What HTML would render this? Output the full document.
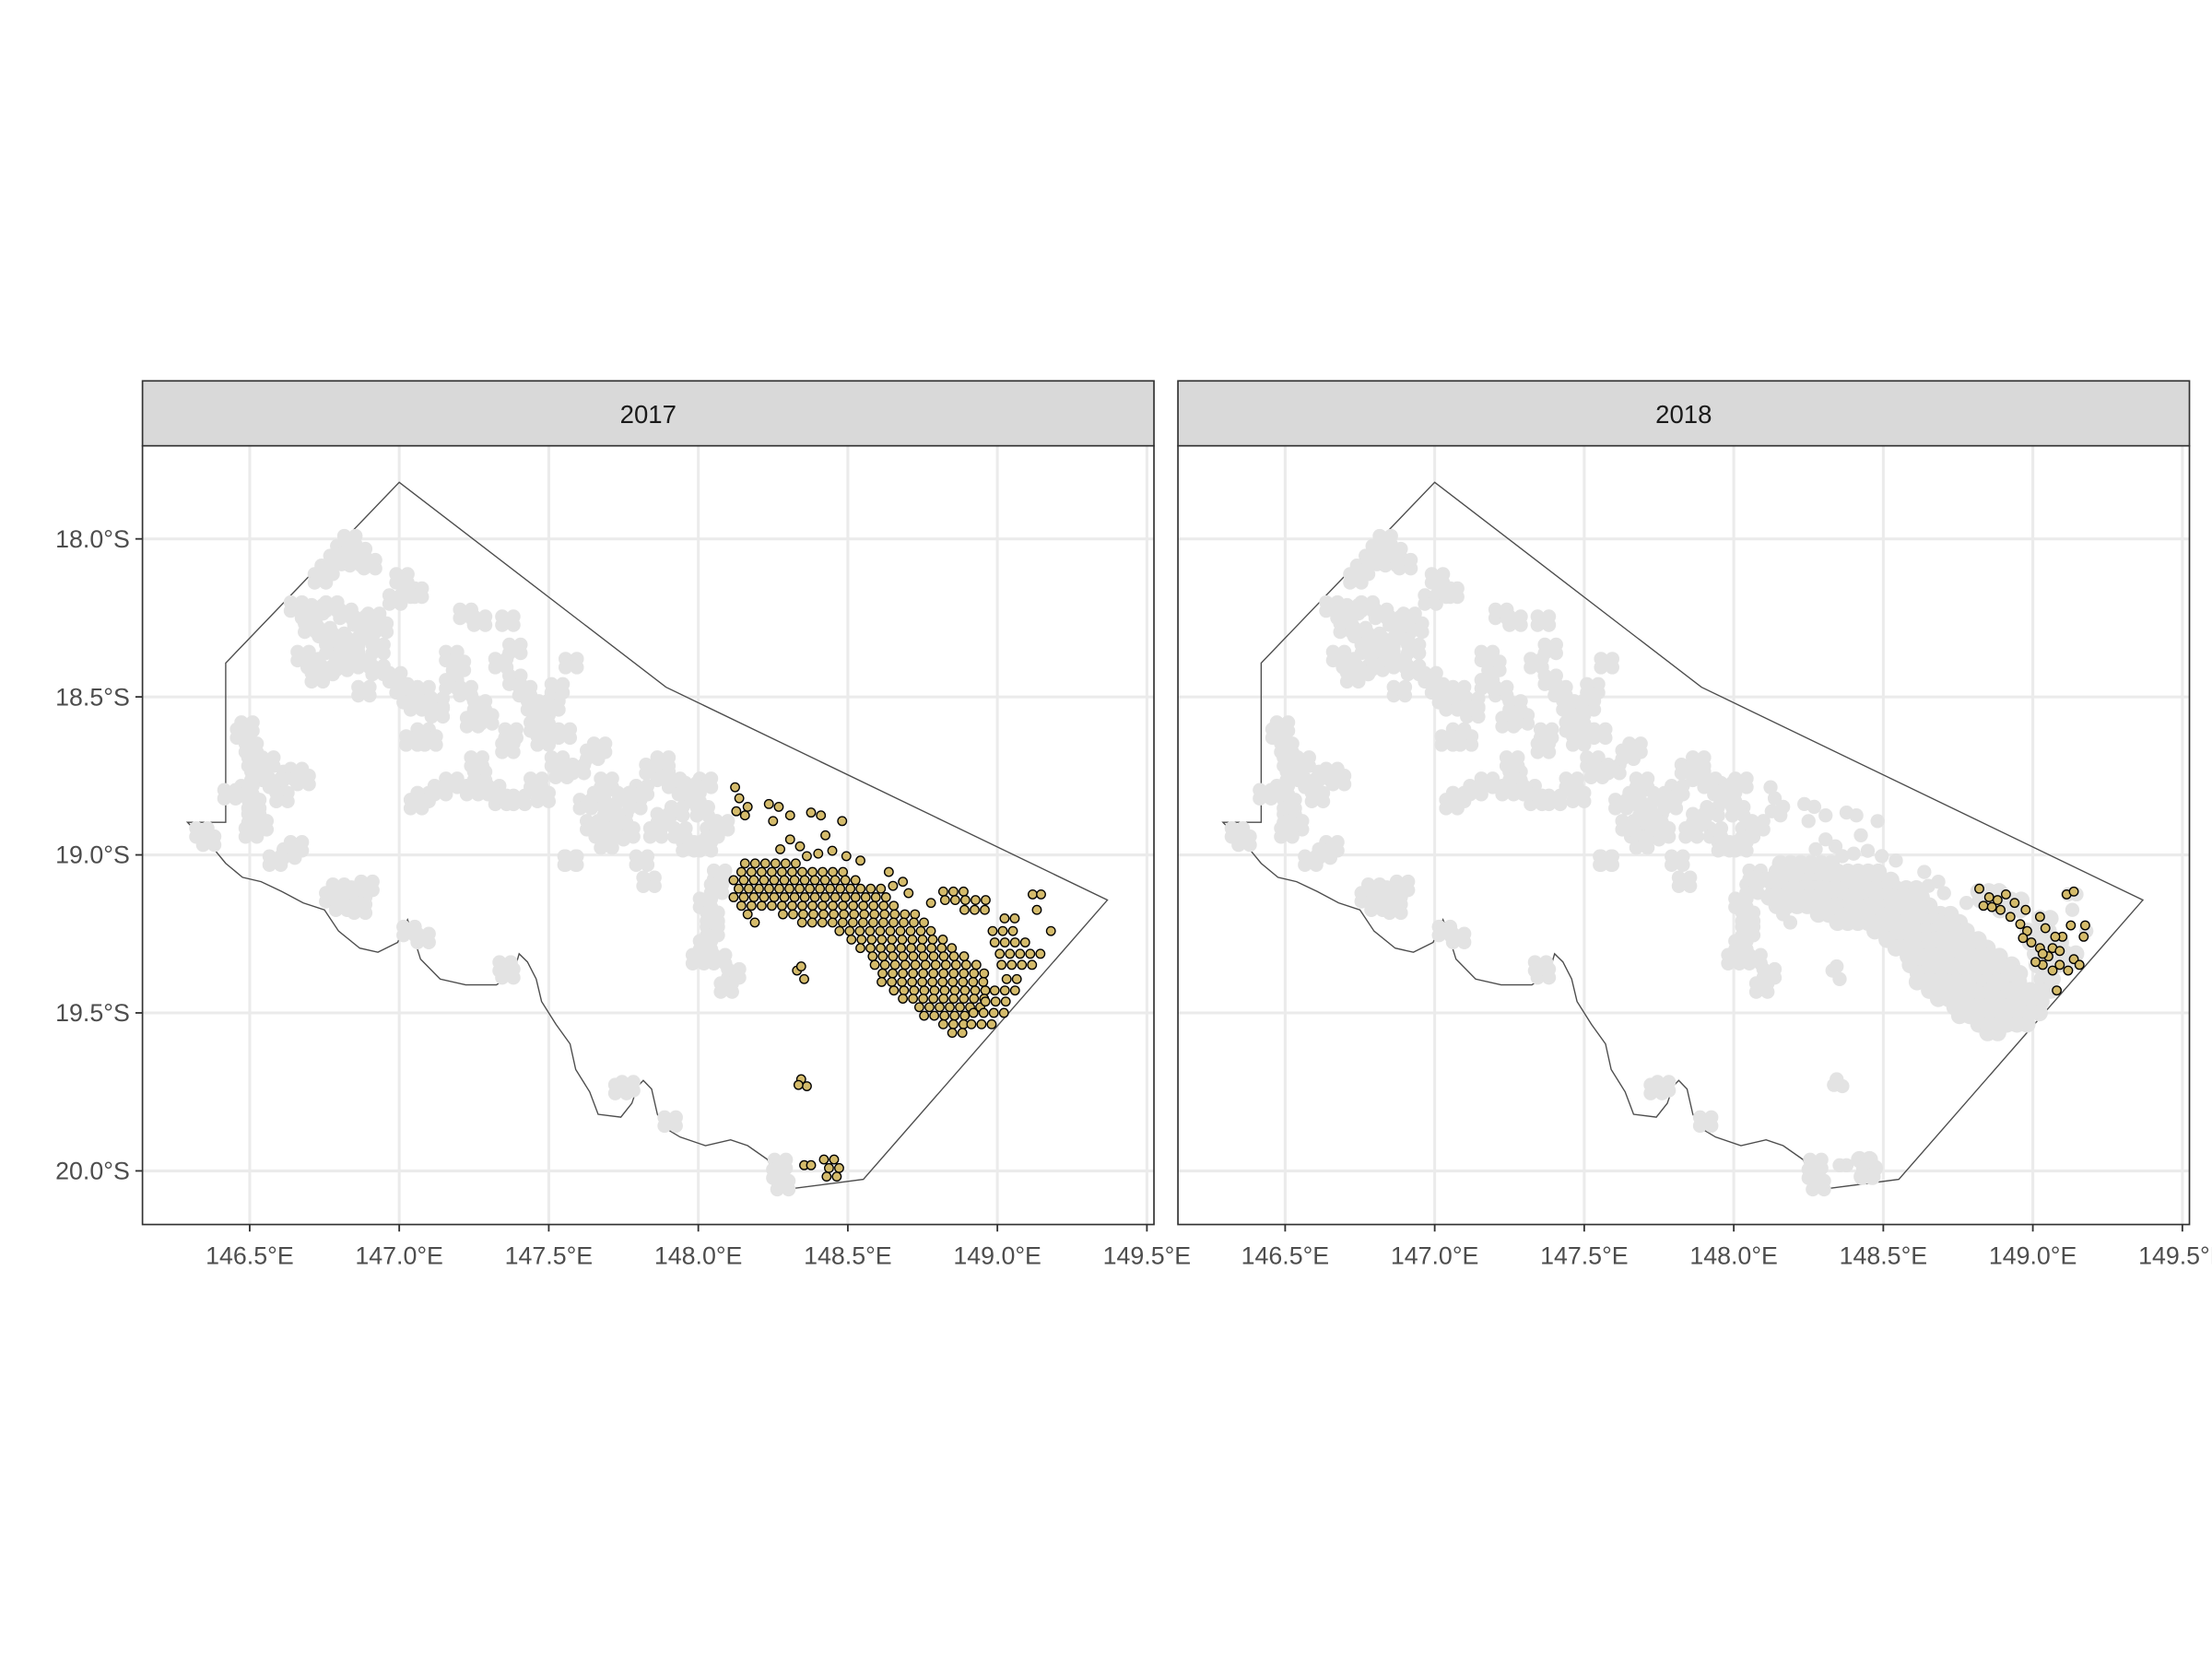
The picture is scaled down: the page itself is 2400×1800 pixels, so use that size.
<!DOCTYPE html>
<html><head><meta charset="utf-8"><style>
html,body{margin:0;padding:0;background:#fff;}
svg{display:block;}
text{font-family:"Liberation Sans",sans-serif;}
</style></head><body>
<svg id="chart" width="2400" height="1800" viewBox="0 0 1568 1176" xmlns="http://www.w3.org/2000/svg">
<defs>
<clipPath id="clipL"><rect x="101" y="316" width="717" height="552"/></clipPath>
<clipPath id="clipR"><rect x="835" y="316" width="717" height="552"/></clipPath>
</defs>
<g id="root"></g>
</svg>
<script>
// ---- data (lon °E, lat °S) ----
const xTicks = [146.5,147.0,147.5,148.0,148.5,149.0,149.5];
const xTickLabels = ["146.5°E","147.0°E","147.5°E","148.0°E","148.5°E","149.0°E","149.5°E"];
const yTicks = [18.0,18.5,19.0,19.5,20.0];
const yTickLabels = ["18.0°S","18.5°S","19.0°S","19.5°S","20.0°S"];
const panelYears = ["2017","2018"];
const boundaryPx = [[133,583],[140,590],[150,600],[160,612],[172,622],[185,625],[200,632],[215,640],[230,645],[240,660],[255,672],[268,675],[282,668],[289,652],[292,660],[298,680],[312,694],[330,698],[352,698],[364,690],[368,676],[374,682],[380,694],[384,710],[394,726],[404,740],[408,758],[418,774],[424,790],[440,792],[448,782],[452,770],[456,766],[462,772],[466,790],[472,800],[482,806],[500,812],[518,808],[530,812],[544,822],[550,834],[558,843],[612,836],[785,638],[472,487],[283,342],[160,470],[160,583]];
const boundaryLon = boundaryPx.map(p=>+(146.5+(p[0]-177)/212).toFixed(3));
const boundaryLat = boundaryPx.map(p=>+(18+(p[1]-382)/224).toFixed(3));
const grayPx = [[248,383],[243,390],[238,397],[232,404],[227,410],[255,392],[262,400],[252,398],[285,410],[290,420],[280,425],[210,430],[218,435],[225,432],[235,430],[245,435],[255,440],[265,438],[270,445],[220,445],[230,448],[240,452],[250,455],[260,450],[268,460],[215,465],[222,470],[232,475],[242,472],[250,465],[258,470],[268,475],[225,480],[235,460],[245,458],[258,490],[295,420],[330,435],[340,440],[360,440],[365,460],[355,470],[320,465],[325,472],[280,480],[285,488],[290,495],[300,490],[295,500],[310,498],[320,485],[330,490],[340,500],[345,510],[335,512],[310,505],[300,520],[292,525],[305,525],[365,482],[372,490],[378,500],[385,510],[392,500],[395,488],[405,470],[400,520],[385,525],[380,515],[362,520],[360,530],[395,540],[398,548],[410,545],[420,535],[425,530],[430,555],[425,565],[432,575],[440,580],[438,592],[445,590],[450,570],[455,560],[432,585],[442,565],[426,590],[462,545],[470,550],[478,555],[485,560],[490,558],[500,555],[492,565],[480,575],[470,580],[465,590],[482,590],[488,600],[500,600],[505,590],[512,585],[498,575],[430,598],[420,585],[415,570],[380,555],[385,565],[368,567],[355,567],[340,550],[338,540],[335,560],[350,560],[320,555],[312,560],[300,565],[295,570],[405,610],[455,610],[460,625],[470,540],[510,620],[500,640],[505,660],[500,670],[510,680],[520,690],[515,700],[495,680],[505,650],[508,630],[175,515],[172,520],[178,530],[180,540],[182,550],[190,540],[195,555],[200,565],[205,550],[210,548],[215,553],[175,560],[180,570],[180,580],[185,585],[163,563],[178,590],[143,590],[148,596],[210,600],[205,605],[195,610],[240,630],[235,636],[245,632],[250,638],[242,642],[255,633],[255,644],[260,628],[290,660],[300,665],[358,685],[360,690],[404,610],[440,772],[445,770],[475,795],[553,825],[555,840],[552,832]];
const grayLon = grayPx.map(p=>+(146.5+(p[0]-177)/212).toFixed(3));
const grayLat = grayPx.map(p=>+(18+(p[1]-382)/224).toFixed(3));
const denseRows2017 = [[612,528,570],[618,522,600],[624,520,610],[630,520,625],[636,520,635],[642,522,640],[648,555,650],[654,565,655],[660,595,660],[666,600,670],[672,610,680],[678,615,690],[684,620,695],[690,622,700],[696,625,700],[702,630,700],[708,640,700],[714,648,700],[720,655,690],[726,665,690],[732,675,688],[632,665,690],[638,670,700],[645,680,705],[651,712,725],[660,700,725],[668,705,730],[676,705,740],[684,710,735],[694,710,725],[702,705,725],[710,695,720],[718,690,712],[726,685,705],[822,584,598],[828,584,600],[834,586,600]];
const rowLat2017 = denseRows2017.map(r=>+(18+(r[0]-382)/224).toFixed(3));
const rowLonMin2017 = denseRows2017.map(r=>+(146.5+(r[1]-177)/212).toFixed(3));
const rowLonMax2017 = denseRows2017.map(r=>+(146.5+(r[2]-177)/212).toFixed(3));
const goldPx2017 = [[521,558],[524,566],[530,572],[522,575],[528,578],[545,570],[552,572],[548,582],[560,578],[575,576],[582,578],[597,582],[585,592],[560,595],[567,600],[553,602],[572,607],[580,605],[590,603],[600,607],[610,610],[630,618],[640,625],[633,628],[644,633],[660,640],[565,688],[570,694],[568,685],[568,765],[572,770],[566,769],[570,826],[575,826],[530,648],[535,654],[735,645],[745,660],[732,634],[738,634]];
const goldLon2017 = goldPx2017.map(p=>+(146.5+(p[0]-177)/212).toFixed(3));
const goldLat2017 = goldPx2017.map(p=>+(18+(p[1]-382)/224).toFixed(3));
const goldPx2018 = [[1403,630],[1410,636],[1416,638],[1422,634],[1428,640],[1418,645],[1425,650],[1432,655],[1437,660],[1434,665],[1440,668],[1446,672],[1452,678],[1448,684],[1455,688],[1460,684],[1466,688],[1470,680],[1462,664],[1468,656],[1465,634],[1470,632],[1477,664],[1478,656],[1436,645],[1446,650],[1450,658],[1457,664],[1455,672],[1460,674],[1443,682],[1458,702],[1474,684],[1448,676],[1406,642],[1412,643]];
const goldLon2018 = goldPx2018.map(p=>+(146.5+(p[0]-734-177)/212).toFixed(3));
const goldLat2018 = goldPx2018.map(p=>+(18+(p[1]-382)/224).toFixed(3));

const NS="http://www.w3.org/2000/svg";
const panels=[{x0:101,clip:"clipL"},{x0:835,clip:"clipR"}];
function xScale(lon,p){return p.x0+76+(lon-146.5)*212;}
function yScale(lat){return 382+(lat-18.0)*224;}
function mk(tag,attrs,parent){const e=document.createElementNS(NS,tag);for(const k in attrs)e.setAttribute(k,attrs[k]);parent.appendChild(e);return e;}
const root=document.getElementById('root');
const STEP_X=7.2/212, STEP_Y=6/224;
// blob glyph: a reef patch drawn as a small cluster of overlapping discs
const BLOB=[[0,0],[-4,-3],[4,-3],[-4,3],[4,3]];
function grayBlob(cx,cy,parent){
  const bg=mk('g',{fill:'#e3e3e3'},parent);
  
  
  BLOB.forEach(o=>mk('circle',{cx:cx+o[0],cy:cy+o[1],r:5},bg));
}

panels.forEach((p,pi)=>{
  const g=mk('g',{},root);
  
  
  const bg=mk('rect',{x:p.x0,y:316,width:717,height:552,fill:'#fff'},g);
  
  
  xTicks.forEach((t,i)=>{
    const gl=mk('line',{x1:xScale(t,p),x2:xScale(t,p),y1:316,y2:868,stroke:'#ebebeb','stroke-width':2},g);
    
    
    const tk=mk('line',{x1:xScale(t,p),x2:xScale(t,p),y1:868,y2:873,stroke:'#333','stroke-width':1.2},g);
    
    
    const lb=mk('text',{x:xScale(t,p),y:896,'text-anchor':'middle','font-size':17.5,fill:'#4d4d4d'},g);
    lb.textContent=xTickLabels[i];
    
    
  });
  yTicks.forEach((t,i)=>{
    const gl=mk('line',{x1:p.x0,x2:p.x0+717,y1:yScale(t),y2:yScale(t),stroke:'#ebebeb','stroke-width':2},g);
    
    
    if(pi===0){
      const tk=mk('line',{x1:96,x2:101,y1:yScale(t),y2:yScale(t),stroke:'#333','stroke-width':1.2},g);
      
      
      const lb=mk('text',{x:92,y:yScale(t)+6,'text-anchor':'end','font-size':17.5,fill:'#4d4d4d'},g);
      lb.textContent=yTickLabels[i];
      
      
    }
  });
  const cg=mk('g',{'clip-path':'url(#'+p.clip+')'},g);
  const pts=boundaryLon.map((lo,i)=>xScale(lo,p).toFixed(1)+','+yScale(boundaryLat[i]).toFixed(1)).join(' ');
  const poly=mk('polygon',{points:pts,fill:'none',stroke:'#4d4d4d','stroke-width':0.9},cg);
  
  
  grayLon.forEach((lo,i)=>grayBlob(xScale(lo,p),yScale(grayLat[i]),cg));
  function rowPoints(gold){
    rowLat2017.forEach((la,i)=>{
      const off=(i%2)?STEP_X/2:0;
      for(let lo=rowLonMin2017[i]+off; lo<=rowLonMax2017[i]+1e-6; lo+=STEP_X){
        if(gold){
          const c=mk('circle',{cx:xScale(lo,p),cy:yScale(la),r:3.1,fill:'#d4bb6b',stroke:'#000','stroke-width':0.9},cg);
          
          
        } else {
          const c=mk('circle',{cx:xScale(lo,p),cy:yScale(la),r:6,fill:'#e3e3e3'},cg);
          
          
        }
      }
    });
  }
  function goldPoints(lons,lats){
    lons.forEach((lo,i)=>{
      const c=mk('circle',{cx:xScale(lo,p),cy:yScale(lats[i]),r:3.1,fill:'#d4bb6b',stroke:'#000','stroke-width':0.9},cg);
      
      
    });
  }
  if(pi===0){
    rowPoints(true);
    goldPoints(goldLon2017,goldLat2017);
  } else {
    rowPoints(false);
    goldLon2017.forEach((lo,i)=>{
      const c=mk('circle',{cx:xScale(lo,p),cy:yScale(goldLat2017[i]),r:5,fill:'#e3e3e3'},cg);
      
      
    });
    goldPoints(goldLon2018,goldLat2018);
  }
  const border=mk('rect',{x:p.x0,y:316,width:717,height:552,fill:'none',stroke:'#333','stroke-width':1.1},g);
  
  
  const strip=mk('rect',{x:p.x0,y:270,width:717,height:46,fill:'#d9d9d9',stroke:'#333','stroke-width':1.1},g);
  
  
  const st=mk('text',{x:p.x0+358.5,y:300,'text-anchor':'middle','font-size':18,fill:'#1a1a1a'},g);
  st.textContent=panelYears[pi];
  
  
});
</script>
</body></html>
